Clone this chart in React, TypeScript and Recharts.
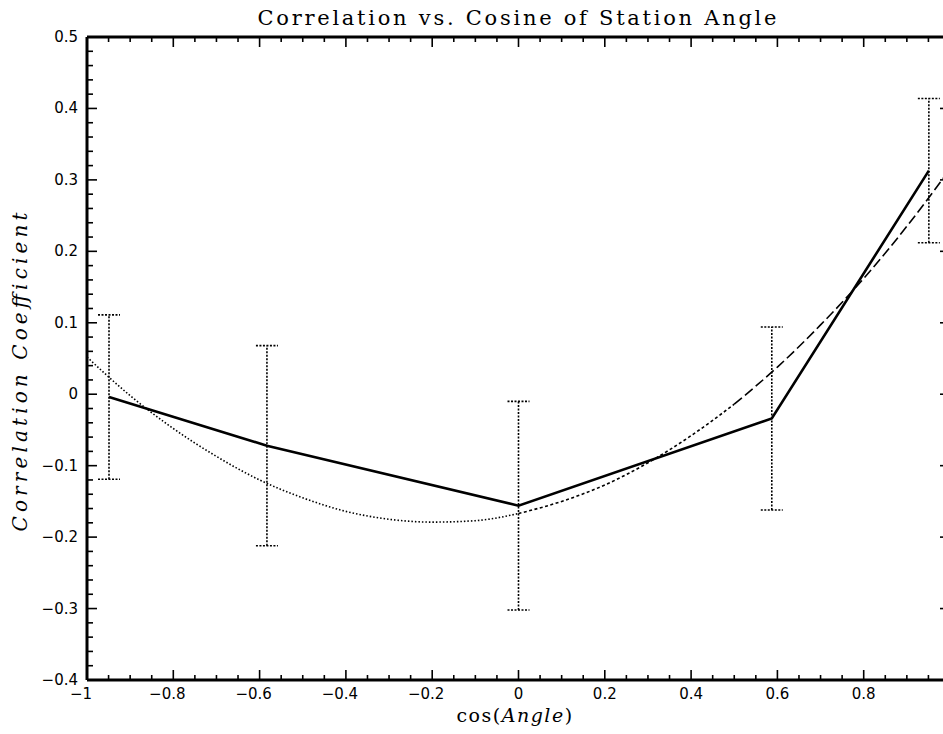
import { LineChart, Line, XAxis, YAxis, ErrorBar } from "recharts";

// station points (cos of angle, correlation, half error bar)
const cosAngle = [-0.949, -0.583, 0, 0.587, 0.951];
const correlation = [-0.004, -0.072, -0.156, -0.034, 0.313];
const errHalf = [0.115, 0.14, 0.146, 0.128, 0.101];

// fitted curve
const fitX = [-1, -0.9, -0.8, -0.7, -0.6, -0.5, -0.4, -0.3, -0.2, -0.1, 0, 0.1, 0.2, 0.3, 0.4, 0.5, 0.6, 0.7, 0.8, 0.9, 1];
const fitY = [0.052, -0.002, -0.048, -0.087, -0.12, -0.145, -0.164, -0.175, -0.179, -0.177, -0.167, -0.15, -0.127, -0.096, -0.058, -0.014, 0.038, 0.097, 0.162, 0.235, 0.315];

// the "1" label sits outside the cropped picture, so it is left blank
const xMajor = [-1, -0.8, -0.6, -0.4, -0.2, 0, 0.2, 0.4, 0.6, 0.8, 1];
const xLabels = ["\u22121", "\u22120.8", "\u22120.6", "\u22120.4", "\u22120.2", "0", "0.2", "0.4", "0.6", "0.8", ""];
const yMajor = [0.5, 0.4, 0.3, 0.2, 0.1, 0, -0.1, -0.2, -0.3, -0.4];
const yLabels = ["0.5", "0.4", "0.3", "0.2", "0.1", "0", "\u22120.1", "\u22120.2", "\u22120.3", "\u22120.4"];

// minor tick positions: every 0.05 on x, every 0.02 on y
const xTicks = Array.from({ length: 41 }, (_, i) => Math.round((-1 + i * 0.05) * 100) / 100);
const yTicks = Array.from({ length: 46 }, (_, i) => Math.round((-0.4 + i * 0.02) * 100) / 100);

const obs = cosAngle.map((x, i) => ({ x, r: correlation[i], err: errHalf[i] }));
const fit = fitX.map((x, i) => ({ x, y: fitY[i] }));
const fitDotted = fit.filter((d) => d.x <= 0);
const fitShort = fit.filter((d) => d.x >= 0 && d.x <= 0.5);
const fitLong = fit.filter((d) => d.x >= 0.5);

const findIdx = (arr: number[], v: number) => arr.findIndex((m) => Math.abs(m - v) < 1e-6);

const tickFont = { fontFamily: "DejaVu Sans", fontSize: 15, fill: "#000" };

const BottomTick = (props: any) => {
  const { x, y, payload } = props;
  const i = findIdx(xMajor, payload.value);
  const len = i >= 0 ? 10 : 5;
  const label = i >= 0 ? xLabels[i] : "";
  return (
    <g>
      <line x1={x} y1={y} x2={x} y2={y - len} stroke="#000" strokeWidth={1.6} />
      {label !== "" && (
        <text x={x} y={y + 19} textAnchor="middle" dx={label.startsWith("\u2212") ? -6 : 0} {...tickFont}>
          {label}
        </text>
      )}
    </g>
  );
};

const TopTick = (props: any) => {
  const { x, y, payload } = props;
  const len = findIdx(xMajor, payload.value) >= 0 ? 10 : 5;
  return <line x1={x} y1={y} x2={x} y2={y + len} stroke="#000" strokeWidth={1.6} />;
};

const LeftTick = (props: any) => {
  const { x, y, payload } = props;
  const i = findIdx(yMajor, payload.value);
  const len = i >= 0 ? 10 : 6;
  return (
    <g>
      <line x1={x} y1={y} x2={x + len} y2={y} stroke="#000" strokeWidth={1.6} />
      {i >= 0 && (
        <text x={78} y={y} dy={5} textAnchor="end" {...tickFont}>
          {yLabels[i]}
        </text>
      )}
    </g>
  );
};

const RightTick = (props: any) => {
  const { x, y, payload } = props;
  const len = findIdx(yMajor, payload.value) >= 0 ? 10 : 6;
  return <line x1={x} y1={y} x2={x - len} y2={y} stroke="#000" strokeWidth={1.6} />;
};

const axisLine = { stroke: "#000", strokeWidth: 3 };

export default function App() {
  return (
    <div style={{ position: "fixed", left: 0, top: 0, width: 943, height: 734, overflow: "hidden", background: "#fff" }}>
      <LineChart width={960} height={734} margin={{ top: 36, right: 9, bottom: 53, left: 86 }}>
        <XAxis
          xAxisId={0}
          dataKey="x"
          type="number"
          domain={[-1, 1]}
          ticks={xTicks}
          interval={0}
          height={1}
          tickSize={0}
          tickMargin={0}
          tickLine={false}
          axisLine={axisLine}
          tick={BottomTick}
          allowDataOverflow
        />
        <XAxis
          xAxisId="top"
          orientation="top"
          dataKey="x"
          type="number"
          domain={[-1, 1]}
          ticks={xTicks}
          interval={0}
          height={1}
          tickSize={0}
          tickMargin={0}
          tickLine={false}
          axisLine={axisLine}
          tick={TopTick}
          allowDataOverflow
        />
        <YAxis
          yAxisId={0}
          type="number"
          domain={[-0.4, 0.5]}
          ticks={yTicks}
          interval={0}
          width={1}
          tickSize={0}
          tickMargin={0}
          tickLine={false}
          axisLine={axisLine}
          tick={LeftTick}
          allowDataOverflow
        />
        <YAxis
          yAxisId="right"
          orientation="right"
          type="number"
          domain={[-0.4, 0.5]}
          ticks={yTicks}
          interval={0}
          width={1}
          tickSize={0}
          tickMargin={0}
          tickLine={false}
          axisLine={axisLine}
          tick={RightTick}
          allowDataOverflow
        />
        <Line data={fitDotted} dataKey="y" type="monotone" stroke="#000" strokeWidth={1.6} strokeDasharray="1.5 2" dot={false} activeDot={false} isAnimationActive={false} />
        <Line data={fitShort} dataKey="y" type="monotone" stroke="#000" strokeWidth={1.6} strokeDasharray="3 2.5" dot={false} activeDot={false} isAnimationActive={false} />
        <Line data={fitLong} dataKey="y" type="monotone" stroke="#000" strokeWidth={1.6} strokeDasharray="10 4" dot={false} activeDot={false} isAnimationActive={false} />
        <Line data={obs} dataKey="r" type="linear" stroke="#000" strokeWidth={2.6} dot={false} activeDot={false} isAnimationActive={false}>
          <ErrorBar dataKey="err" direction="y" width={11} stroke="#000" strokeWidth={1.6} strokeDasharray="2 1.5" isAnimationActive={false} />
        </Line>
      </LineChart>
      <svg width={943} height={734} style={{ position: "absolute", left: 0, top: 0, pointerEvents: "none" }}>
        <text x={517} y={25} textAnchor="middle" fontFamily="DejaVu Serif" fontSize={21} textLength={519} lengthAdjust="spacing">
          Correlation vs. Cosine of Station Angle
        </text>
        <text
          transform="translate(27,372) rotate(-90)"
          textAnchor="middle"
          fontFamily="DejaVu Serif"
          fontStyle="italic"
          fontSize={20}
          textLength={319}
          lengthAdjust="spacing"
        >
          Correlation Coefficient
        </text>
        <text x={515} y={722} textAnchor="middle" fontFamily="DejaVu Serif" fontSize={19} letterSpacing={1.5}>
          cos(<tspan fontStyle="italic">Angle</tspan>)
        </text>
      </svg>
    </div>
  );
}
